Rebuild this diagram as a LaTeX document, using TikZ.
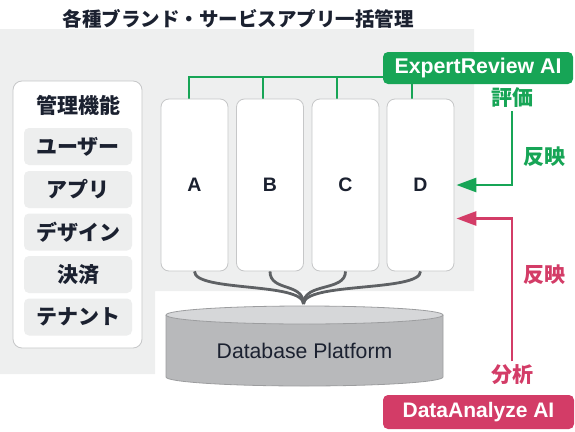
\documentclass[tikz,border=0pt]{standalone}
\usepackage{fontspec}
\setmainfont{Liberation Sans}
\newfontfamily\jp{Noto Sans CJK JP}
\usetikzlibrary{arrows.meta}
\definecolor{panel}{HTML}{EEEFEF}
\definecolor{boxline}{HTML}{C6C7C8}
\definecolor{itemfill}{HTML}{EDEEEE}
\definecolor{ink}{HTML}{1B2130}
\definecolor{egreen}{HTML}{17A556}
\definecolor{dpink}{HTML}{D33C67}
\definecolor{cylbody}{HTML}{B8B9BB}
\definecolor{cyltop}{HTML}{D6D7D9}
\definecolor{cylline}{HTML}{9C9D9F}
\definecolor{curve}{HTML}{5E6164}
\tikzset{
  jpb/.style={font=\jp\bfseries\fontsize{21}{21}\selectfont},
  titlefont/.style={font=\jp\bfseries\fontsize{19.5}{20}\selectfont, text=ink},
  mainbox/.style={draw=boxline, line width=0.8pt, fill=white, rounded corners=9pt, inner sep=0pt},
  itembox/.style={fill=itemfill, rounded corners=5pt, minimum width=108pt, minimum height=37pt, inner sep=0pt, jpb, text=ink},
  colbox/.style={draw=boxline, line width=0.8pt, fill=white, rounded corners=8pt, minimum width=67pt, minimum height=172pt, inner sep=0pt, font=\bfseries\fontsize{19.5}{20}\selectfont, text=ink},
  aibox/.style={rounded corners=5pt, text=white, inner sep=0pt},
  gline/.style={draw=egreen, line width=2.8pt},
  pline/.style={draw=dpink, line width=2.8pt},
  tip/.style={-{Triangle[length=20pt,width=14pt]}},
  dbcurve/.style={draw=curve, line width=2.8pt},
}
\begin{document}
\begin{tikzpicture}[x=1pt,y=-1pt]
\useasboundingbox (0,0) rectangle (575,431);
% background panel
\fill[panel] (0,29) -- (474,29) -- (474,291) -- (155,291) -- (155,374) -- (0,374) -- cycle;
\node[titlefont] (title) at (238,19) {各種ブランド・サービスアプリ一括管理};

% left management box
\node[mainbox, minimum width=129pt, minimum height=267pt] (mgmt) at (77.5,214.5) {};
\node[jpb, text=ink] (mgmttitle) at (78,105) {管理機能};
\node[itembox] (i1) at (78,146.5) {ユーザー};
\node[itembox] (i2) at (78,189.5) {アプリ};
\node[itembox] (i3) at (78,232) {デザイン};
\node[itembox] (i4) at (78,274.5) {決済};
\node[itembox] (i5) at (78,317) {テナント};

% green connector lines
\coordinate (t1) at (189,77);
\coordinate (t2) at (263,77);
\coordinate (t3) at (337,77);
\coordinate (t4) at (412,77);
\coordinate (er) at (390,77);
\draw[gline] (er) -- (t1) -- (189,100);
\draw[gline] (t2) -- (263,100);
\draw[gline] (t3) -- (337,100);
\draw[gline] (t4) -- (412,100);

% columns
\node[colbox] (A) at (194.5,185) {A};
\node[colbox] (B) at (270,185) {B};
\node[colbox] (C) at (345.5,185) {C};
\node[colbox] (D) at (420.5,185) {D};

% database cylinder
\fill[cylbody] (166,315) -- (166,377) arc[start angle=180,end angle=360,x radius=138.5pt,y radius=9pt] -- (443,315) -- cycle;
\draw[cylline, line width=0.8pt] (166,315) -- (166,377) arc[start angle=180,end angle=360,x radius=138.5pt,y radius=9pt] -- (443,315);
\draw[cylline, line width=0.8pt, fill=cyltop] (304.5,315) ellipse[x radius=138.5pt, y radius=9pt];
\node[font=\fontsize{21.2}{22}\selectfont, text=ink] (db) at (304.5,351) {Database Platform};

% curves to database
\coordinate (m) at (303.5,304);
\draw[dbcurve] (A.south) .. controls (194.5,292) and (303.5,282) .. (m);
\draw[dbcurve] (B.south) .. controls (270,292) and (303.5,282) .. (m);
\draw[dbcurve] (C.south) .. controls (345.5,292) and (303.5,282) .. (m);
\draw[dbcurve] (D.south) .. controls (420.5,292) and (303.5,282) .. (m);

% ExpertReview AI
\node[aibox, fill=egreen, minimum width=190pt, minimum height=32pt, font=\bfseries\fontsize{21.3}{22}\selectfont] (ER) at (478,68) {ExpertReview AI};
\node[jpb, text=egreen] (hyoka) at (512,98) {評価};
\node[jpb, text=egreen] (hanei1) at (544,157) {反映};
\draw[gline, tip] (hyoka.south) |- ([xshift=2pt]D.east);

% DataAnalyze AI
\node[aibox, fill=dpink, minimum width=191pt, minimum height=34pt, font=\bfseries\fontsize{21}{22}\selectfont] (DA) at (478.5,412) {DataAnalyze AI};
\node[jpb, text=dpink] (bunseki) at (512,375) {分析};
\node[jpb, text=dpink] (hanei2) at (544,275) {反映};
\draw[pline, tip] (bunseki.north) |- ([xshift=2pt,yshift=-33.5pt]D.east);
\end{tikzpicture}
\end{document}
